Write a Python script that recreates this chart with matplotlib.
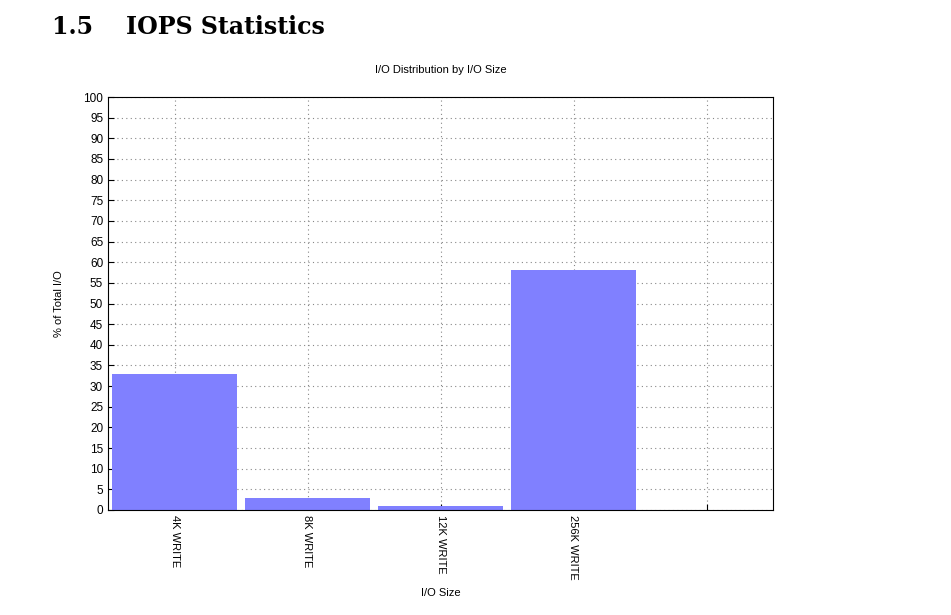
import matplotlib.pyplot as plt
import numpy as np

categories = ["4K WRITE", "8K WRITE", "12K WRITE", "256K WRITE"]
percent = [33, 3, 1, 58]

fig = plt.figure(figsize=(9.51, 6.15), dpi=100)
fig.text(52 / 951, 1 - 27 / 615, "1.5    IOPS Statistics", fontsize=17, fontweight="bold",
         family="DejaVu Serif", va="center")

ax = fig.add_axes([108 / 951, 1 - 510 / 615, 665 / 951, 413 / 615])
x = np.arange(len(categories))
ax.bar(x, percent, width=0.94, color="#8080ff", zorder=2)
ax.set_xlim(-0.5, 4.5)
ax.set_ylim(0, 100)
ax.set_yticks(range(0, 101, 5))
ax.set_xticks(range(5))
ax.set_xticklabels(categories + [""], rotation=-90, fontsize=8, family="Liberation Sans")
ax.tick_params(axis="y", labelsize=8.5, direction="in", length=4)
ax.tick_params(axis="x", direction="in", length=4)
for lab in ax.get_yticklabels():
    lab.set_family("Liberation Sans")
ax.grid(True, linestyle=(0, (1, 3)), color="#888888", linewidth=0.8, zorder=0)
ax.set_title("I/O Distribution by I/O Size", fontsize=8, family="Liberation Sans", pad=17)
ax.set_xlabel("I/O Size", fontsize=8, family="Liberation Sans", labelpad=6)
ax.set_ylabel("% of Total I/O", fontsize=8, family="Liberation Sans", labelpad=14)
for s in ax.spines.values():
    s.set_linewidth(0.8)

fig.savefig("out.png", dpi=100)
